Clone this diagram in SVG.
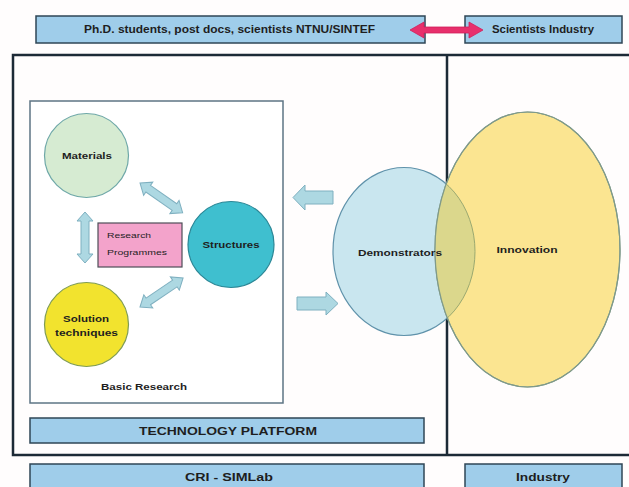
<svg xmlns="http://www.w3.org/2000/svg" width="629" height="487" viewBox="0 0 629 487">
<defs>
<style>
.bar{fill:#9fcdea;stroke:#2f4656;stroke-width:1.5}
.t{font-family:"Liberation Sans",Arial,sans-serif;font-weight:bold;fill:#1e1e1e;text-anchor:middle}
.blk{fill:#add8e2;stroke:#7fb0c0;stroke-width:1}
</style>
<clipPath id="innClip"><ellipse cx="527.5" cy="249.5" rx="92.5" ry="137.5"/></clipPath>
</defs>
<rect x="0" y="0" width="629" height="487" fill="#fffdfd"/>

<!-- frame -->
<g id="frame" fill="none" stroke="#1c2a36" stroke-width="2.5">
<rect x="13" y="55" width="630" height="400"/>
<line x1="447" y1="55" x2="447" y2="455"/>
</g>

<g id="top-left"><rect class="bar" x="36" y="16" width="389" height="27"/>
<text class="t" x="229.5" y="33" font-size="10" textLength="291" lengthAdjust="spacingAndGlyphs">Ph.D. students, post docs, scientists NTNU/SINTEF</text></g>
<g id="top-right"><rect class="bar" x="465" y="16" width="157" height="27"/>
<text class="t" x="543" y="33" font-size="10" textLength="102" lengthAdjust="spacingAndGlyphs">Scientists Industry</text></g>

<g id="basic-research"><rect x="30" y="101" width="253" height="302" fill="#ffffff" stroke="#5d7484" stroke-width="1.5"/>
<text class="t" x="144" y="390" font-size="9" textLength="86" lengthAdjust="spacingAndGlyphs">Basic Research</text></g>

<g id="tech-platform"><rect class="bar" x="30" y="418" width="394" height="25"/>
<text class="t" x="228" y="435" font-size="11" textLength="178" lengthAdjust="spacingAndGlyphs">TECHNOLOGY PLATFORM</text></g>
<g id="cri"><rect class="bar" x="30" y="464" width="394" height="30"/>
<text class="t" x="229" y="481" font-size="11" textLength="88" lengthAdjust="spacingAndGlyphs">CRI - SIMLab</text></g>
<g id="industry"><rect class="bar" x="465" y="464" width="157" height="30"/>
<text class="t" x="543" y="481" font-size="11" textLength="54" lengthAdjust="spacingAndGlyphs">Industry</text></g>

<g id="materials"><circle cx="86.5" cy="155.5" r="42" fill="#d6ebd2" stroke="#6fa8a8" stroke-width="1.2"/>
<text class="t" x="87" y="159" font-size="9" textLength="50" lengthAdjust="spacingAndGlyphs">Materials</text></g>
<g id="structures"><circle cx="231" cy="244.5" r="43" fill="#3fbfcf" stroke="#2b8796" stroke-width="1.2"/>
<text class="t" x="231" y="248" font-size="9" textLength="57" lengthAdjust="spacingAndGlyphs">Structures</text></g>
<g id="solution"><circle cx="86.5" cy="324.5" r="42" fill="#f2e32e" stroke="#7f9c55" stroke-width="1.2"/>
<text class="t" x="86" y="322" font-size="9" textLength="46" lengthAdjust="spacingAndGlyphs">Solution</text>
<text class="t" x="86.5" y="336" font-size="9" textLength="63" lengthAdjust="spacingAndGlyphs">techniques</text></g>
<g id="research-programmes"><rect x="98" y="223" width="84" height="44" fill="#f3a3cb" stroke="#4e4e58" stroke-width="1.2"/>
<text class="t" x="107" y="238" font-size="6.5" style="text-anchor:start;font-weight:normal" textLength="44" lengthAdjust="spacingAndGlyphs">Research</text>
<text class="t" x="107" y="255" font-size="6.5" style="text-anchor:start;font-weight:normal" textLength="60" lengthAdjust="spacingAndGlyphs">Programmes</text></g>

<g id="demonstrators"><ellipse cx="404" cy="251.5" rx="71" ry="84" fill="#c9e6ef" stroke="#5f92aa" stroke-width="1.2"/></g>
<g id="innovation"><ellipse cx="527.5" cy="249.5" rx="92.5" ry="137.5" fill="#fbe591" stroke="#7f9a8a" stroke-width="1.2"/>
<ellipse cx="404" cy="251.5" rx="71" ry="84" fill="#dbd78c" stroke="#9aa870" stroke-width="1" clip-path="url(#innClip)"/>
<ellipse cx="527.5" cy="249.5" rx="92.5" ry="137.5" fill="none" stroke="#7f9a8a" stroke-width="1.2"/>
<text class="t" x="527" y="253" font-size="9" textLength="61" lengthAdjust="spacingAndGlyphs">Innovation</text></g>
<text class="t" x="400" y="256" font-size="9" textLength="84" lengthAdjust="spacingAndGlyphs">Demonstrators</text>

<g id="connectors">
<!-- pink double arrow -->
<path d="M410,30 L424,22 L424,27 L469,27 L469,22 L483,30 L469,38 L469,33 L424,33 L424,38 Z" fill="#e8306c" stroke="#d0205a" stroke-width="0.8"/>
<!-- small double arrows -->
<path class="blk" transform="translate(85,212) rotate(90)" d="M0,0 L9,-8 L9,-4 L42,-4 L42,-8 L51,0 L42,8 L42,4 L9,4 L9,8 Z"/>
<path class="blk" transform="translate(140,183) rotate(34.9)" d="M0,0 L10,-8 L10,-4 L42,-4 L42,-8 L52,0 L42,8 L42,4 L10,4 L10,8 Z"/>
<path class="blk" transform="translate(140,307) rotate(-34)" d="M0,0 L10,-8 L10,-4 L42,-4 L42,-8 L52,0 L42,8 L42,4 L10,4 L10,8 Z"/>
<!-- big block arrows -->
<path class="blk" d="M293,197.5 L305,185 L305,191 L333,191 L333,204 L305,204 L305,210 Z"/>
<path class="blk" d="M338,303.5 L326,292 L326,297 L297,297 L297,310 L326,310 L326,315 Z"/>
</g>
</svg>
